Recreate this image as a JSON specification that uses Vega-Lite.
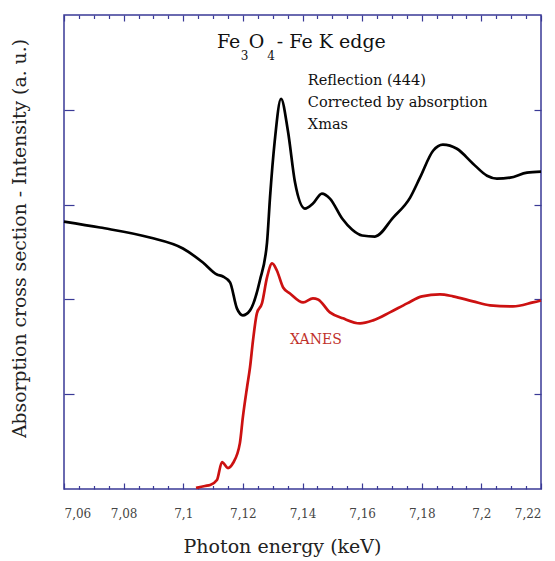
{
  "$schema": "https://vega.github.io/schema/vega-lite/v6.json",
  "width": 477,
  "height": 474,
  "autosize": "none",
  "padding": {"left": 64, "top": 15, "right": 14, "bottom": 72},
  "background": "white",
  "config": {
    "font": "DejaVu Serif",
    "view": {"stroke": "#3a3a96", "strokeWidth": 1.5},
    "axis": {"grid": false, "domain": false, "tickColor": "#3a3a96", "tickWidth": 1.2, "labelFont": "DejaVu Serif", "titleFont": "DejaVu Serif", "titleFontWeight": "normal", "labelColor": "#444", "titleColor": "#222"}
  },
  "datasets": {
    "xmas": [
      {"E": 7.0600, "v": 2.821}, {"E": 7.0721, "v": 2.758}, {"E": 7.0888, "v": 2.653},
      {"E": 7.0999, "v": 2.537}, {"E": 7.1066, "v": 2.389}, {"E": 7.1113, "v": 2.263},
      {"E": 7.1133, "v": 2.242}, {"E": 7.1157, "v": 2.179}, {"E": 7.1180, "v": 1.905},
      {"E": 7.1200, "v": 1.832}, {"E": 7.1224, "v": 1.884}, {"E": 7.1257, "v": 2.200},
      {"E": 7.1281, "v": 2.600}, {"E": 7.1291, "v": 3.074}, {"E": 7.1307, "v": 3.674},
      {"E": 7.1328, "v": 4.116}, {"E": 7.1351, "v": 3.779}, {"E": 7.1375, "v": 3.232},
      {"E": 7.1408, "v": 2.958}, {"E": 7.1435, "v": 3.011}, {"E": 7.1465, "v": 3.116},
      {"E": 7.1492, "v": 3.063}, {"E": 7.1533, "v": 2.853}, {"E": 7.1566, "v": 2.737},
      {"E": 7.1600, "v": 2.674}, {"E": 7.1643, "v": 2.663}, {"E": 7.1704, "v": 2.863},
      {"E": 7.1761, "v": 3.074}, {"E": 7.1794, "v": 3.284}, {"E": 7.1838, "v": 3.568},
      {"E": 7.1871, "v": 3.632}, {"E": 7.1918, "v": 3.589}, {"E": 7.1972, "v": 3.432},
      {"E": 7.2019, "v": 3.305}, {"E": 7.2052, "v": 3.274}, {"E": 7.2096, "v": 3.284},
      {"E": 7.2153, "v": 3.337}, {"E": 7.2200, "v": 3.347}
    ],
    "xanes": [
      {"E": 7.1043, "v": 0.011}, {"E": 7.1073, "v": 0.032}, {"E": 7.1090, "v": 0.042},
      {"E": 7.1113, "v": 0.095}, {"E": 7.1130, "v": 0.284}, {"E": 7.1150, "v": 0.221},
      {"E": 7.1167, "v": 0.274}, {"E": 7.1190, "v": 0.484}, {"E": 7.1200, "v": 0.758},
      {"E": 7.1214, "v": 1.074}, {"E": 7.1224, "v": 1.284}, {"E": 7.1234, "v": 1.568},
      {"E": 7.1247, "v": 1.853}, {"E": 7.1264, "v": 1.958}, {"E": 7.1281, "v": 2.232},
      {"E": 7.1298, "v": 2.379}, {"E": 7.1314, "v": 2.305}, {"E": 7.1335, "v": 2.126},
      {"E": 7.1358, "v": 2.063}, {"E": 7.1402, "v": 1.968}, {"E": 7.1435, "v": 2.011},
      {"E": 7.1452, "v": 2.000}, {"E": 7.1492, "v": 1.863}, {"E": 7.1536, "v": 1.800},
      {"E": 7.1593, "v": 1.747}, {"E": 7.1637, "v": 1.779}, {"E": 7.1693, "v": 1.863},
      {"E": 7.1751, "v": 1.958}, {"E": 7.1801, "v": 2.032}, {"E": 7.1861, "v": 2.053},
      {"E": 7.1905, "v": 2.032}, {"E": 7.1972, "v": 1.979}, {"E": 7.2029, "v": 1.937},
      {"E": 7.2106, "v": 1.926}, {"E": 7.2173, "v": 1.968}, {"E": 7.2200, "v": 1.989}
    ],
    "title": [
      {"E": 7.1113, "v": 4.653, "t": "Fe"},
      {"E": 7.1220, "v": 4.653, "t": "O"},
      {"E": 7.1314, "v": 4.653, "t": "- Fe K edge"}
    ],
    "subs": [
      {"E": 7.1193, "v": 4.53, "t": "3"},
      {"E": 7.1282, "v": 4.53, "t": "4"}
    ],
    "notes": [
      {"E": 7.1418, "v": 4.305, "t": "Reflection (444)"},
      {"E": 7.1418, "v": 4.074, "t": "Corrected by absorption"},
      {"E": 7.1418, "v": 3.842, "t": "Xmas"}
    ],
    "xlab": [
      {"E": 7.1445, "v": 1.568, "t": "XANES"}
    ]
  },
  "resolve": {"axis": {"x": "independent", "y": "independent"}},
  "layer": [
    {
      "data": {"name": "xmas"},
      "mark": {"type": "line", "color": "#000000", "strokeWidth": 2.7, "interpolate": "monotone"},
      "encoding": {
        "x": {"field": "E", "type": "quantitative", "scale": {"domain": [7.06, 7.22], "nice": false, "zero": false},
          "axis": {"orient": "bottom", "values": [7.06, 7.08, 7.10, 7.12, 7.14, 7.16, 7.18, 7.20, 7.22], "tickSize": -6, "labelExpr": "replace(format(datum.value, '.2~f'), '.', ',')", "labelFontSize": 12, "labelPadding": 25, "title": "Photon energy (keV)", "titleFontSize": 19, "titlePadding": 18, "titleX": 218}},
        "y": {"field": "v", "type": "quantitative", "scale": {"domain": [0, 5], "nice": false, "zero": false},
          "axis": {"orient": "left", "values": [1, 2, 3, 4], "tickSize": -10, "labels": false, "title": "Absorption cross section - Intensity (a. u.)", "titleFontSize": 18.8, "titlePadding": 34, "titleY": 223}}
      }
    },
    {
      "data": {"name": "xanes"},
      "mark": {"type": "line", "color": "#cc1111", "strokeWidth": 2.7, "interpolate": "monotone"},
      "encoding": {
        "x": {"field": "E", "type": "quantitative",
          "axis": {"orient": "bottom", "values": [7.065, 7.07, 7.075, 7.085, 7.09, 7.095, 7.105, 7.11, 7.115, 7.125, 7.13, 7.135, 7.145, 7.15, 7.155, 7.165, 7.17, 7.175, 7.185, 7.19, 7.195, 7.205, 7.21, 7.215], "tickSize": -3.5, "labels": false, "title": null}},
        "y": {"field": "v", "type": "quantitative",
          "axis": {"orient": "right", "values": [1, 2, 3, 4], "tickSize": -7, "labels": false, "title": null}}
      }
    },
    {
      "data": {"name": "title"},
      "mark": {"type": "text", "font": "DejaVu Serif", "fontSize": 19, "color": "#111", "align": "left", "baseline": "alphabetic"},
      "encoding": {
        "x": {"field": "E", "type": "quantitative",
          "axis": {"orient": "top", "values": [7.065, 7.07, 7.075, 7.085, 7.09, 7.095, 7.105, 7.11, 7.115, 7.125, 7.13, 7.135, 7.145, 7.15, 7.155, 7.165, 7.17, 7.175, 7.185, 7.19, 7.195, 7.205, 7.21, 7.215], "tickSize": -3.5, "labels": false, "title": null}},
        "y": {"field": "v", "type": "quantitative", "axis": null},
        "text": {"field": "t"}
      }
    },
    {
      "data": {"name": "subs"},
      "mark": {"type": "text", "font": "DejaVu Serif", "fontSize": 12, "color": "#111", "align": "left", "baseline": "alphabetic"},
      "encoding": {
        "x": {"field": "E", "type": "quantitative", "axis": null},
        "y": {"field": "v", "type": "quantitative", "axis": null},
        "text": {"field": "t"}
      }
    },
    {
      "data": {"name": "notes"},
      "mark": {"type": "text", "font": "DejaVu Serif", "fontSize": 14.5, "color": "#111", "align": "left", "baseline": "middle"},
      "encoding": {
        "x": {"field": "E", "type": "quantitative",
          "axis": {"orient": "top", "values": [7.06, 7.08, 7.10, 7.12, 7.14, 7.16, 7.18, 7.20, 7.22], "tickSize": -6, "labels": false, "title": null}},
        "y": {"field": "v", "type": "quantitative", "axis": null},
        "text": {"field": "t"}
      }
    },
    {
      "data": {"name": "xlab"},
      "mark": {"type": "text", "font": "DejaVu Serif", "fontSize": 14, "color": "#c0302a", "align": "center", "baseline": "middle"},
      "encoding": {
        "x": {"field": "E", "type": "quantitative", "axis": null},
        "y": {"field": "v", "type": "quantitative", "axis": null},
        "text": {"field": "t"}
      }
    }
  ]
}
